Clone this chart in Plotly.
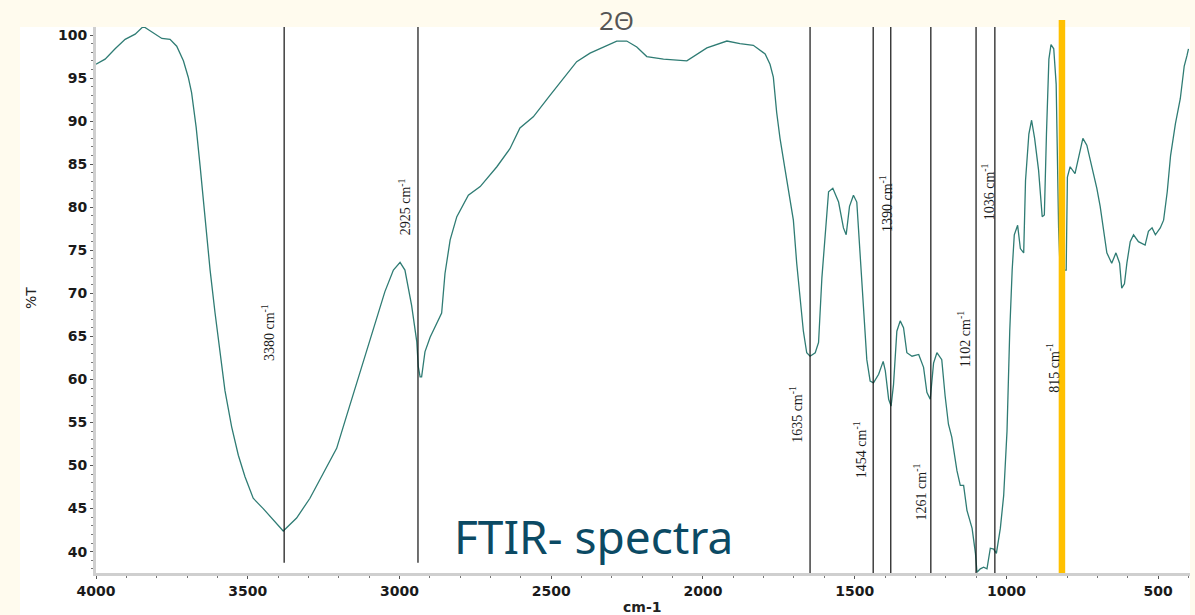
import plotly.graph_objects as go

# ---- spectrum (wavenumber cm-1, %T) ----
wavenumber = [4000, 3970, 3937, 3904, 3871, 3844, 3822, 3783, 3756, 3734, 3712, 3696, 3685, 3670, 3657,
              3641, 3624, 3608, 3591, 3575, 3553, 3531, 3509, 3482, 3449, 3416, 3383, 3339, 3295, 3251,
              3207, 3174, 3141, 3108, 3075, 3048, 3020, 2998, 2982, 2960, 2943, 2938, 2932, 2927, 2916,
              2899, 2861, 2850, 2833, 2811, 2773, 2734, 2679, 2636, 2603, 2559, 2504, 2460, 2416, 2372,
              2328, 2284, 2251, 2218, 2185, 2130, 2053, 2020, 1987, 1921, 1878, 1834, 1812, 1795, 1779,
              1768, 1757, 1746, 1729, 1713, 1702, 1691, 1680, 1669, 1658, 1647, 1630, 1619, 1608, 1597,
              1586, 1572, 1553, 1537, 1528, 1517, 1504, 1493, 1482, 1471, 1460, 1449, 1438, 1421, 1406,
              1399, 1388, 1380, 1372, 1361, 1350, 1339, 1328, 1311, 1289, 1273, 1262, 1251, 1240, 1229,
              1213, 1202, 1191, 1180, 1163, 1152, 1141, 1130, 1113, 1102, 1097, 1086, 1075, 1064, 1053,
              1042, 1033, 1020, 1009, 998, 989, 981, 974, 963, 954, 943, 937, 926, 917, 907,
              894, 882, 875, 868, 860, 853, 844, 836, 828, 823, 803, 799, 790, 774, 763,
              748, 735, 718, 702, 691, 680, 669, 653, 639, 627, 620, 611, 603, 592, 581,
              565, 543, 532, 520, 509, 493, 482, 470, 459, 443, 427, 414, 405, 400]
transmittance = [96.6, 97.2, 98.4, 99.5, 100.1, 101.0, 100.5, 99.6, 99.5, 98.7, 97.0, 95.1, 93.3, 89.3, 84.8,
                 78.6, 72.7, 67.8, 62.8, 58.7, 54.5, 51.2, 48.7, 46.2, 45.0, 43.7, 42.4, 43.9, 46.2, 49.1,
                 52.0, 55.8, 59.5, 63.2, 66.9, 70.2, 72.7, 73.6, 72.7, 68.6, 64.4, 61.5, 60.3, 60.3, 63.2,
                 64.9, 67.7, 72.3, 76.2, 78.9, 81.4, 82.4, 84.7, 86.8, 89.2, 90.5, 93.0, 95.0, 96.9, 97.9,
                 98.6, 99.3, 99.3, 98.6, 97.5, 97.2, 97.0, 97.7, 98.5, 99.3, 99.0, 98.8, 98.2, 97.8, 96.6,
                 95.1, 91.0, 88.0, 84.3, 80.6, 78.5, 73.5, 69.3, 65.6, 63.1, 62.7, 63.1, 64.3, 71.8, 76.8,
                 81.8, 82.2, 80.6, 77.6, 76.8, 80.1, 81.4, 80.6, 74.7, 68.5, 62.3, 59.8, 59.6, 60.6, 62.1,
                 61.0, 57.7, 56.9, 59.4, 65.6, 66.8, 66.0, 63.1, 62.7, 62.9, 61.4, 58.5, 57.7, 61.9, 63.1,
                 62.3, 58.1, 54.8, 53.3, 49.4, 47.7, 47.7, 44.8, 42.7, 39.8, 37.6, 38.0, 38.2, 38.0, 40.4,
                 40.3, 39.8, 42.7, 46.5, 54.0, 65.6, 72.7, 76.8, 77.9, 75.2, 74.7, 83.1, 88.5, 90.1, 88.0,
                 84.3, 78.9, 79.1, 88.5, 97.2, 98.9, 98.4, 94.3, 77.6, 72.7, 72.7, 83.5, 84.7, 83.9, 85.6,
                 88.0, 87.2, 84.7, 82.2, 80.1, 77.6, 74.7, 73.5, 74.7, 73.5, 70.6, 71.1, 73.5, 76.0, 76.8,
                 76.0, 75.6, 77.2, 77.6, 76.8, 77.6, 78.5, 81.8, 86.0, 89.7, 92.6, 96.4, 97.6, 98.4]

# ---- peak markers ----
peak_labels = ["3380", "2925", "1635", "1454", "1390", "1261", "1102", "1036", "815"]
line_wavenumbers = [3380, 2939, 1647, 1439, 1381, 1249, 1100, 1038]
line_bottoms = [38.7, 38.7, 37.52, 37.52, 37.52, 37.52, 37.52, 37.52]
label_x = [3433, 2982, 1693, 1482, 1396, 1284, 1139, 1062, 845]
label_y = [65.4, 80.1, 55.9, 51.8, 80.4, 46.9, 64.7, 81.8, 61.4]
highlight_wavenumber = 817

x_ticks = [4000, 3500, 3000, 2500, 2000, 1500, 1000, 500]
y_ticks = [40, 45, 50, 55, 60, 65, 70, 75, 80, 85, 90, 95, 100]

X_RANGE = [4000, 395]
Y_RANGE = [37.52, 100.93]

CREAM = "#fffbee"

fig = go.Figure()
fig.add_trace(go.Scatter(x=wavenumber, y=transmittance, mode="lines",
                         line=dict(color="#2f7c74", width=1.3), hoverinfo="x+y",
                         showlegend=False))

shapes = []
# white panel behind chart and tick labels
shapes.append(dict(type="rect", xref="paper", yref="paper", x0=-0.0695, x1=1.0, y0=-0.08, y1=1.0,
                   fillcolor="white", line=dict(width=0), layer="below"))
for wn, yb in zip(line_wavenumbers, line_bottoms):
    shapes.append(dict(type="line", xref="x", yref="y", x0=wn, x1=wn, y0=yb, y1=Y_RANGE[1],
                       line=dict(color="#111111", width=1.2), layer="above"))
shapes.append(dict(type="line", xref="x", yref="paper", x0=highlight_wavenumber, x1=highlight_wavenumber,
                   y0=0, y1=1.013, line=dict(color="#ffc000", width=6.5), layer="above"))

annotations = []
for lab, lx, ly in zip(peak_labels, label_x, label_y):
    annotations.append(dict(x=lx, y=ly, xref="x", yref="y", text=f"{lab} cm<sup>-1</sup>",
                            textangle=-90, showarrow=False,
                            font=dict(family="Liberation Serif", size=14, color="#1a1a1a")))

annotations.append(dict(x=0.4762, y=1.012, xref="paper", yref="paper", text="2Θ", showarrow=False,
                        xanchor="center", yanchor="middle",
                        font=dict(family="Open Sans", size=26, color="#555555")))
annotations.append(dict(x=0.4545, y=0.067, xref="paper", yref="paper", text="FTIR- spectra",
                        showarrow=False, xanchor="center", yanchor="middle",
                        font=dict(family="Noto Sans", size=46, color="#0b4a64")))
annotations.append(dict(x=-0.0594, y=0.5037, xref="paper", yref="paper", text="%T", textangle=-90,
                        showarrow=False, xanchor="center", yanchor="middle",
                        font=dict(family="DejaVu Sans", size=14, color="#222222")))
annotations.append(dict(x=0.499, y=-0.0623, xref="paper", yref="paper", text="cm-1",
                        showarrow=False, xanchor="center", yanchor="middle",
                        font=dict(family="DejaVu Sans", size=14, color="#222222", weight="bold")))

fig.update_layout(
    width=1195, height=615,
    margin=dict(l=96, r=5, t=27, b=42, pad=0),
    paper_bgcolor=CREAM, plot_bgcolor="white",
    shapes=shapes, annotations=annotations,
    xaxis=dict(range=X_RANGE, tickmode="array", tickvals=x_ticks, ticktext=[str(v) for v in x_ticks],
               showgrid=False, zeroline=False, showline=True, linecolor="#cfcfcf", linewidth=3,
               ticks="outside", ticklen=3, tickcolor="#555555", tickwidth=1,
               tickfont=dict(family="DejaVu Sans", size=14, color="#1a1a1a", weight="bold"),
               minor=dict(dtick=100, ticks="outside", ticklen=2, tickcolor="#777777", showgrid=False)),
    yaxis=dict(range=Y_RANGE, tickmode="array", tickvals=y_ticks, ticktext=[str(v) for v in y_ticks],
               showgrid=False, zeroline=False, showline=True, linecolor="#cfcfcf", linewidth=3,
               ticks="outside", ticklen=3, tickcolor="#555555", tickwidth=1,
               tickfont=dict(family="DejaVu Sans", size=14, color="#1a1a1a", weight="bold"),
               minor=dict(dtick=1, tick0=0, ticks="outside", ticklen=2, tickcolor="#777777", showgrid=False)),
)

fig.write_html("out.html", config={"displayModeBar": False},
               post_script="document.body.style.margin='0';document.body.style.background='%s';" % CREAM)
